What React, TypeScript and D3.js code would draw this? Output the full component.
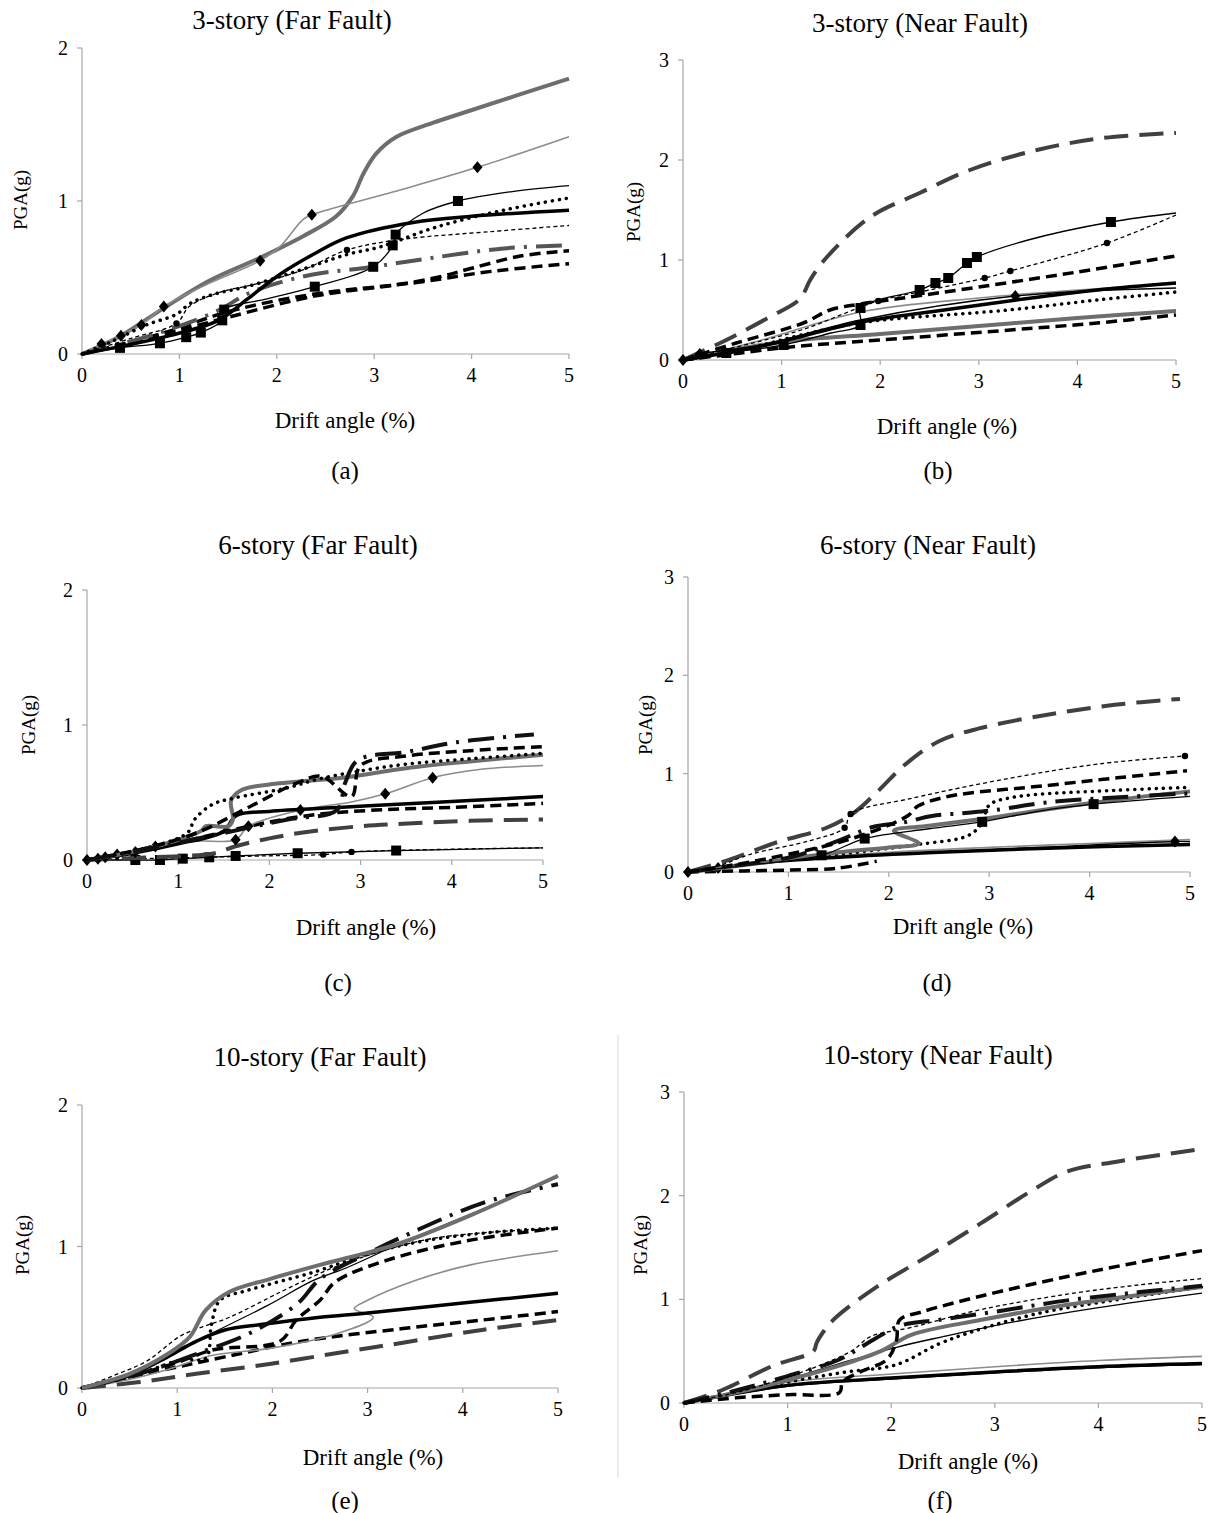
import React from 'react'
import * as d3 from 'd3'

// [drift %, PGA g, marker?]
type Pt = number[]
type Series = { style: string; pts: Pt[] }

const xTicks = [0, 1, 2, 3, 4, 5]
const yTicksFar = [0, 1, 2]
const yTicksNear = [0, 1, 2, 3]
const titles = [
  '3-story (Far Fault)',
  '3-story (Near Fault)',
  '6-story (Far Fault)',
  '6-story (Near Fault)',
  '10-story (Far Fault)',
  '10-story (Near Fault)',
]
const letters = ['(a)', '(b)', '(c)', '(d)', '(e)', '(f)']
const xTitle = 'Drift angle (%)'
const yTitle = 'PGA(g)'

const seriesA: Series[] = [
  { style: 'thickGray', pts: [[0, 0], [0.4, 0.12], [0.84, 0.3], [1.31, 0.48], [1.83, 0.63], [2.27, 0.77], [2.61, 0.9], [2.78, 1.03], [2.89, 1.18], [3.02, 1.31], [3.23, 1.42], [3.6, 1.51], [3.98, 1.59], [5, 1.8]] },
  { style: 'thinGrayDiamond', pts: [[0, 0], [0.2, 0.065, 1], [0.4, 0.12, 1], [0.61, 0.19, 1], [0.84, 0.31, 1], [1.3, 0.46], [1.83, 0.61, 1], [2.03, 0.7], [2.27, 0.88], [2.36, 0.91, 1], [3.2, 1.06], [4.06, 1.22, 1], [5, 1.42]] },
  { style: 'thickDash', pts: [[0, 0], [0.8, 0.12], [1.5, 0.24], [2.4, 0.38], [3.2, 0.45], [3.64, 0.5], [4.0, 0.56], [4.5, 0.64], [5, 0.675]] },
  { style: 'thickDash', pts: [[0, 0], [0.8, 0.13], [1.52, 0.28], [2.37, 0.39], [3.47, 0.47], [4.2, 0.54], [5, 0.59]] },
  { style: 'dashDotGray', pts: [[0, 0], [0.7, 0.12], [1.35, 0.27], [1.76, 0.41], [2.37, 0.52], [2.88, 0.56], [3.4, 0.61], [4.33, 0.69], [4.94, 0.71]] },
  { style: 'dotted', pts: [[0, 0], [0.3, 0.08], [0.66, 0.19], [0.97, 0.26], [1.11, 0.33], [1.35, 0.39], [1.69, 0.44], [2.2, 0.54], [2.72, 0.65], [3.06, 0.7], [3.64, 0.83], [4.33, 0.94], [5, 1.02]] },
  { style: 'thinDashCircle', pts: [[0, 0], [0.49, 0.1], [0.97, 0.2, 1], [1.1, 0.31], [1.4, 0.4], [1.8, 0.46], [2.27, 0.55], [2.72, 0.68, 1], [3.3, 0.75], [4.2, 0.8], [5, 0.84]] },
  { style: 'thickBlack', pts: [[0, 0], [0.4, 0.05], [0.9, 0.12], [1.4, 0.22], [1.7, 0.36], [2.03, 0.52], [2.4, 0.66], [2.72, 0.76], [3.4, 0.86], [4, 0.9], [5, 0.94]] },
  { style: 'thinBlackSquare', pts: [[0, 0], [0.39, 0.04, 1], [0.8, 0.07, 1], [1.07, 0.11, 1], [1.22, 0.14, 1], [1.44, 0.22, 1], [1.46, 0.29, 1], [1.9, 0.36], [2.39, 0.44, 1], [2.99, 0.57, 1], [3.19, 0.71, 1], [3.22, 0.78, 1], [3.5, 0.92], [3.86, 1.0, 1], [4.4, 1.06], [5, 1.1]] },
]

const seriesB: Series[] = [
  { style: 'longDash', pts: [[0, 0], [0.44, 0.2], [0.88, 0.43], [1.15, 0.58], [1.22, 0.66], [1.29, 0.8], [1.46, 1.03], [1.9, 1.43], [2.4, 1.67], [2.91, 1.9], [3.59, 2.1], [4.26, 2.22], [5, 2.27]] },
  { style: 'thickGray', pts: [[0, 0], [1.0, 0.18], [2.0, 0.26], [3.0, 0.34], [4.0, 0.42], [5, 0.49]] },
  { style: 'thickDash', pts: [[0, 0], [0.5, 0.06], [1.09, 0.13], [2.0, 0.2], [3.32, 0.3], [4.2, 0.37], [5, 0.45]] },
  { style: 'dotted', pts: [[0, 0], [0.6, 0.1], [1.2, 0.25], [1.86, 0.38], [3.3, 0.5], [4.2, 0.6], [5, 0.68]] },
  { style: 'thinGray', pts: [[0, 0], [0.8, 0.2], [1.8, 0.48], [3.0, 0.62], [4.0, 0.7], [5, 0.76]] },
  { style: 'thickBlack', pts: [[0, 0], [0.8, 0.14], [1.8, 0.38], [2.5, 0.48], [3.38, 0.6], [4.2, 0.7], [5, 0.77]] },
  { style: 'thinBlackDiamond', pts: [[0, 0, 1], [0.17, 0.06, 1], [0.8, 0.15], [1.8, 0.4], [3.37, 0.64, 1], [5, 0.72]] },
  { style: 'thickDash', pts: [[0, 0], [0.54, 0.17], [1.22, 0.37], [1.49, 0.5], [1.8, 0.56], [2.23, 0.62], [3.0, 0.73], [4.0, 0.88], [5, 1.04]] },
  { style: 'thinDashCircle', pts: [[0, 0], [0.5, 0.12], [1.2, 0.3], [1.98, 0.59, 1], [2.5, 0.7], [3.06, 0.82, 1], [3.32, 0.89, 1], [4.3, 1.17, 1], [5, 1.45]] },
  { style: 'thinBlackSquare', pts: [[0, 0], [0.44, 0.07, 1], [1.02, 0.15, 1], [1.5, 0.27], [1.8, 0.35, 1], [1.8, 0.52, 1], [2.4, 0.7, 1], [2.56, 0.77, 1], [2.69, 0.82, 1], [2.88, 0.97, 1], [2.98, 1.03, 1], [3.5, 1.2], [4.34, 1.38, 1], [5, 1.47]] },
]

const seriesC: Series[] = [
  { style: 'thinBlackSquare', pts: [[0, 0], [0.53, 0.0, 1], [0.8, 0.0, 1], [1.05, 0.01, 1], [1.34, 0.02, 1], [1.63, 0.03, 1], [2.31, 0.05, 1], [3.39, 0.07, 1], [5, 0.09]] },
  { style: 'thinDashCircle', pts: [[0, 0], [0.6, 0.01], [1.3, 0.02], [1.9, 0.03], [2.59, 0.04, 1], [2.9, 0.06, 1], [4, 0.08], [5, 0.09]] },
  { style: 'longDash', pts: [[0, 0], [0.7, 0.02], [1.4, 0.05], [1.62, 0.1], [2.0, 0.16], [2.43, 0.21], [3.0, 0.25], [3.52, 0.27], [4.2, 0.29], [5, 0.3]] },
  { style: 'thickDash', pts: [[0, 0], [0.6, 0.07], [1.2, 0.16], [1.77, 0.25], [2.43, 0.33], [3.16, 0.37], [4.0, 0.39], [5, 0.42]] },
  { style: 'thinGrayDiamond', pts: [[0, 0, 1], [0.12, 0.01, 1], [0.2, 0.02, 1], [0.33, 0.04, 1], [0.53, 0.06, 1], [0.75, 0.1, 1], [1.2, 0.14], [1.63, 0.15, 1], [1.77, 0.25, 1], [2.34, 0.37, 1], [2.9, 0.43], [3.27, 0.49, 1], [3.79, 0.61, 1], [4.3, 0.67], [5, 0.7]] },
  { style: 'thickBlack', pts: [[0, 0], [0.5, 0.05], [1.0, 0.12], [1.49, 0.21], [1.64, 0.33], [2.0, 0.36], [2.8, 0.39], [3.3, 0.41], [4.2, 0.44], [5, 0.47]] },
  { style: 'thickGray', pts: [[0, 0], [0.5, 0.06], [1.0, 0.15], [1.26, 0.22], [1.3, 0.25], [1.55, 0.25], [1.6, 0.3], [1.58, 0.44], [1.7, 0.52], [2.0, 0.56], [2.8, 0.61], [3.5, 0.68], [4.2, 0.73], [5, 0.78]] },
  { style: 'dotted', pts: [[0, 0], [0.6, 0.08], [1.1, 0.2], [1.18, 0.3], [1.37, 0.41], [1.62, 0.46], [2.17, 0.53], [2.54, 0.6], [3.0, 0.66], [3.5, 0.71], [4.2, 0.75], [5, 0.79]] },
  { style: 'thickDash', pts: [[0, 0], [0.6, 0.08], [1.2, 0.2], [1.8, 0.4], [2.3, 0.57], [2.57, 0.62], [2.9, 0.47], [3.0, 0.7], [3.5, 0.77], [4.2, 0.81], [5, 0.84]] },
  { style: 'dashDot', pts: [[0, 0], [0.8, 0.1], [1.5, 0.2], [2.2, 0.3], [2.74, 0.37], [2.83, 0.57], [2.97, 0.74], [3.5, 0.8], [4.03, 0.87], [4.9, 0.93]] },
]

const seriesD: Series[] = [
  { style: 'longDash', pts: [[0, 0], [0.4, 0.12], [0.88, 0.3], [1.38, 0.45], [1.65, 0.6], [1.89, 0.82], [2.16, 1.09], [2.5, 1.33], [2.9, 1.46], [3.58, 1.6], [4.25, 1.7], [4.9, 1.76]] },
  { style: 'thickDash', pts: [[0, 0], [0.5, 0.01], [1.0, 0.02], [1.5, 0.04], [1.88, 0.11]] },
  { style: 'thinGray', pts: [[0, 0], [1.0, 0.12], [2.0, 0.2], [3.0, 0.25], [4.0, 0.29], [5, 0.33]] },
  { style: 'thickBlack', pts: [[0, 0], [0.8, 0.1], [1.5, 0.15], [2.5, 0.2], [3.5, 0.24], [5, 0.28]] },
  { style: 'thinBlackDiamond', pts: [[0, 0, 1], [0.3, 0.04, 1], [1.0, 0.12], [2.0, 0.18], [3.5, 0.25], [4.85, 0.31, 1], [5, 0.31]] },
  { style: 'dotted', pts: [[0, 0], [0.6, 0.08], [1.2, 0.15], [1.76, 0.21], [2.29, 0.28], [2.79, 0.37], [2.93, 0.5], [3.0, 0.68], [3.24, 0.76], [4.25, 0.83], [5, 0.86]] },
  { style: 'thickGray', pts: [[0, 0], [0.7, 0.09], [1.5, 0.2], [2.0, 0.25], [2.3, 0.29], [2.05, 0.42], [2.4, 0.47], [3.0, 0.55], [4.0, 0.7], [5, 0.82]] },
  { style: 'thinBlackSquare', pts: [[0, 0], [0.6, 0.07], [1.33, 0.17, 1], [1.76, 0.34, 1], [2.4, 0.44], [2.93, 0.51, 1], [3.5, 0.62], [4.04, 0.69, 1], [5, 0.77]] },
  { style: 'dashDot', pts: [[0, 0], [0.5, 0.07], [1.06, 0.16], [1.5, 0.32], [1.85, 0.46], [2.13, 0.5], [2.43, 0.57], [2.76, 0.6], [3.06, 0.63], [3.6, 0.71], [4.3, 0.76], [5, 0.8]] },
  { style: 'thickDash', pts: [[0, 0], [0.5, 0.08], [1.0, 0.18], [1.5, 0.3], [1.96, 0.46], [2.2, 0.58], [2.29, 0.67], [2.6, 0.77], [3.58, 0.88], [4.3, 0.96], [4.97, 1.03]] },
  { style: 'thinDashCircle', pts: [[0, 0], [0.3, 0.06], [0.62, 0.18], [1.22, 0.32], [1.56, 0.45, 1], [1.62, 0.59, 1], [2.23, 0.75], [3.24, 0.96], [4.1, 1.1], [4.95, 1.18, 1]] },
]

const seriesE: Series[] = [
  { style: 'longDash', pts: [[0, 0], [0.58, 0.04], [1.2, 0.1], [1.97, 0.17], [2.8, 0.26], [3.37, 0.32], [4.2, 0.41], [5, 0.48]] },
  { style: 'thickDash', pts: [[0, 0], [0.8, 0.12], [1.5, 0.22], [2.31, 0.33], [3.37, 0.42], [4.2, 0.48], [5, 0.54]] },
  { style: 'thinGray', pts: [[0, 0], [0.5, 0.06], [0.9, 0.13], [1.36, 0.23], [1.97, 0.28], [2.66, 0.38], [3.06, 0.5], [2.86, 0.56], [3.0, 0.62], [3.5, 0.76], [4.08, 0.87], [5, 0.97]] },
  { style: 'thickBlack', pts: [[0, 0], [0.5, 0.09], [0.9, 0.22], [1.2, 0.33], [1.5, 0.41], [1.9, 0.45], [2.5, 0.5], [3.0, 0.53], [4.0, 0.6], [5, 0.67]] },
  { style: 'thickDash', pts: [[0, 0], [0.6, 0.1], [1.0, 0.18], [1.38, 0.27], [2.08, 0.33], [2.25, 0.48], [2.5, 0.62], [2.66, 0.75], [3.19, 0.9], [4.04, 1.04], [5, 1.13]] },
  { style: 'thinDash', pts: [[0, 0], [0.34, 0.09], [0.68, 0.19], [1.04, 0.37], [1.3, 0.44], [1.55, 0.5], [2.09, 0.68], [2.6, 0.84], [3.02, 0.94], [3.71, 1.06], [5, 1.13]] },
  { style: 'dotted', pts: [[0, 0], [0.6, 0.1], [1.05, 0.2], [1.3, 0.21], [1.36, 0.45], [1.45, 0.62], [1.74, 0.69], [2.44, 0.82], [3.02, 0.95], [3.6, 1.04], [4.3, 1.1], [5, 1.13]] },
  { style: 'thinBlack', pts: [[0, 0], [0.6, 0.12], [1.0, 0.27], [1.31, 0.37], [1.94, 0.58], [2.43, 0.76], [2.78, 0.85], [3.37, 1.03], [4.2, 1.26], [5, 1.49]] },
  { style: 'dashDot', pts: [[0, 0], [0.6, 0.1], [1.2, 0.24], [1.8, 0.4], [2.27, 0.6], [2.5, 0.77], [3.0, 0.95], [3.37, 1.07], [4.22, 1.31], [5, 1.44]] },
  { style: 'thickGray', pts: [[0, 0], [0.5, 0.1], [0.9, 0.24], [1.13, 0.36], [1.3, 0.55], [1.55, 0.68], [1.97, 0.77], [2.5, 0.87], [3.02, 0.96], [3.37, 1.03], [4.08, 1.22], [5, 1.5]] },
]

const seriesF: Series[] = [
  { style: 'longDash', pts: [[0, 0], [0.38, 0.13], [0.86, 0.36], [1.25, 0.5], [1.28, 0.58], [1.34, 0.68], [1.46, 0.82], [1.86, 1.12], [2.36, 1.42], [2.86, 1.73], [3.36, 2.05], [3.69, 2.23], [4.19, 2.33], [5, 2.45]] },
  { style: 'thinGray', pts: [[0, 0], [1.0, 0.2], [2.0, 0.28], [3.0, 0.35], [4.0, 0.41], [5, 0.45]] },
  { style: 'thinBlack', pts: [[0, 0], [1, 0.16], [2, 0.23], [3, 0.29], [4, 0.34], [5, 0.37]] },
  { style: 'thickBlack', pts: [[0, 0], [1.0, 0.17], [2.0, 0.24], [3.0, 0.3], [4.0, 0.35], [5, 0.38]] },
  { style: 'dotted', pts: [[0, 0], [0.5, 0.1], [1.1, 0.22], [1.57, 0.3], [2.05, 0.37], [2.46, 0.57], [2.79, 0.69], [3.4, 0.86], [4.2, 1.0], [5, 1.12]] },
  { style: 'thinBlack', pts: [[0, 0], [0.5, 0.1], [1.04, 0.24], [1.5, 0.38], [2.06, 0.54], [2.5, 0.64], [3.17, 0.78], [4.0, 0.92], [5, 1.06]] },
  { style: 'thickGray', pts: [[0, 0], [0.5, 0.1], [1.0, 0.22], [1.5, 0.36], [1.9, 0.5], [2.2, 0.66], [2.86, 0.8], [3.6, 0.93], [4.3, 1.03], [5, 1.12]] },
  { style: 'dashDot', pts: [[0, 0], [0.5, 0.12], [1.0, 0.26], [1.5, 0.42], [1.86, 0.63], [2.1, 0.75], [2.45, 0.8], [3.0, 0.88], [3.7, 0.99], [4.4, 1.07], [5, 1.13]] },
  { style: 'thinDash', pts: [[0, 0], [0.5, 0.1], [1.0, 0.25], [1.4, 0.4], [1.63, 0.51], [1.8, 0.64], [2.2, 0.73], [2.86, 0.9], [3.7, 1.05], [4.4, 1.14], [5, 1.2]] },
  { style: 'thickDash', pts: [[0, 0], [0.5, 0.05], [1.0, 0.08], [1.5, 0.1], [1.53, 0.2], [1.7, 0.3], [1.96, 0.42], [2.05, 0.6], [2.08, 0.8], [2.3, 0.88], [2.86, 1.03], [3.7, 1.22], [4.4, 1.36], [5, 1.47]] },
]

type LineStyle = { stroke: string; width: number; dash?: string; cap?: 'round' | 'butt'; marker?: string }
const styles: Record<string, LineStyle> = {
  thickGray: { stroke: '#6e6e6e', width: 4 },
  thinGray: { stroke: '#8c8c8c', width: 1.6 },
  thinGrayDiamond: { stroke: '#8c8c8c', width: 1.6, marker: 'diamond' },
  thickBlack: { stroke: '#000', width: 3.5 },
  thinBlack: { stroke: '#000', width: 1.3 },
  thinBlackSquare: { stroke: '#000', width: 1.3, marker: 'square' },
  thinBlackDiamond: { stroke: '#000', width: 1.3, marker: 'diamond' },
  thinDash: { stroke: '#000', width: 1.3, dash: '4 3' },
  thinDashCircle: { stroke: '#000', width: 1.3, dash: '4 3', marker: 'circle' },
  dotted: { stroke: '#000', width: 3.5, dash: '0.1 7', cap: 'round' },
  thickDash: { stroke: '#000', width: 3.5, dash: '11 6' },
  longDash: { stroke: '#404040', width: 4, dash: '24 11' },
  dashDot: { stroke: '#111', width: 4, dash: '26 9 3 9' },
  dashDotGray: { stroke: '#555', width: 4, dash: '26 9 3 9' },
}

type PanelCfg = {
  data: Series[]
  yTicks: number[]
  left: number; right: number; bottom: number; top: number
  title: [number, number]; yLab: [number, number]; xLab: [number, number]; letter: [number, number]
}

const panels: PanelCfg[] = [
  { data: seriesA, yTicks: yTicksFar, left: 82, right: 569, bottom: 354, top: 48, title: [292, 29], yLab: [20, 200], xLab: [345, 428], letter: [345, 479] },
  { data: seriesB, yTicks: yTicksNear, left: 683, right: 1176, bottom: 360, top: 60, title: [920, 32], yLab: [633, 212], xLab: [947, 434], letter: [938, 479] },
  { data: seriesC, yTicks: yTicksFar, left: 87, right: 543, bottom: 860, top: 590, title: [318, 554], yLab: [28, 725], xLab: [366, 935], letter: [338, 991] },
  { data: seriesD, yTicks: yTicksNear, left: 688, right: 1190, bottom: 872, top: 577, title: [928, 554], yLab: [645, 725], xLab: [963, 934], letter: [937, 991] },
  { data: seriesE, yTicks: yTicksFar, left: 82, right: 558, bottom: 1388, top: 1105, title: [320, 1066], yLab: [22, 1245], xLab: [373, 1465], letter: [345, 1509] },
  { data: seriesF, yTicks: yTicksNear, left: 684, right: 1202, bottom: 1403, top: 1092, title: [938, 1064], yLab: [640, 1245], xLab: [968, 1469], letter: [940, 1509] },
]

const axisColor = '#a6a6a6'

function Marker({ kind, cx, cy }: { kind?: string; cx: number; cy: number }) {
  if (kind === 'square') return <rect x={cx - 5} y={cy - 5} width={10} height={10} fill="#000" />
  if (kind === 'diamond') return <path d={`M${cx},${cy - 6}L${cx + 5},${cy}L${cx},${cy + 6}L${cx - 5},${cy}Z`} fill="#000" />
  if (kind === 'circle') return <circle cx={cx} cy={cy} r={3.2} fill="#000" />
  return null
}

function Panel({ p, i }: { p: PanelCfg; i: number }) {
  const yMax = p.yTicks[p.yTicks.length - 1]
  const x = d3.scaleLinear().domain([0, 5]).range([p.left, p.right])
  const y = d3.scaleLinear().domain([0, yMax]).range([p.bottom, p.top])
  const line = d3
    .line<Pt>()
    .x((d) => x(d[0]))
    .y((d) => y(d[1]))
    .curve(d3.curveCatmullRom.alpha(0.5))

  return (
    <g>
      <text x={p.title[0]} y={p.title[1]} textAnchor="middle" fontSize={27}>{titles[i]}</text>
      {/* axes */}
      <line x1={p.left} x2={p.left} y1={p.top} y2={p.bottom} stroke={axisColor} strokeWidth={1.2} />
      <line x1={p.left} x2={p.right} y1={p.bottom} y2={p.bottom} stroke={axisColor} strokeWidth={1.2} />
      {p.yTicks.map((t) => (
        <g key={'y' + t}>
          <line x1={p.left - 5} x2={p.left} y1={y(t)} y2={y(t)} stroke={axisColor} strokeWidth={1.2} />
          <text x={p.left - 14} y={y(t) + 7} textAnchor="end" fontSize={20}>{t}</text>
        </g>
      ))}
      {xTicks.map((t) => (
        <g key={'x' + t}>
          <line x1={x(t)} x2={x(t)} y1={p.bottom} y2={p.bottom + 5} stroke={axisColor} strokeWidth={1.2} />
          <text x={x(t)} y={p.bottom + 28} textAnchor="middle" fontSize={20}>{t}</text>
        </g>
      ))}
      <text
        transform={`translate(${p.yLab[0]},${p.yLab[1]}) rotate(-90)`}
        textAnchor="middle"
        dy="0.35em"
        fontSize={19}
      >
        {yTitle}
      </text>
      <text x={p.xLab[0]} y={p.xLab[1]} textAnchor="middle" fontSize={23}>{xTitle}</text>
      <text x={p.letter[0]} y={p.letter[1]} textAnchor="middle" fontSize={25}>{letters[i]}</text>
      {/* curves */}
      {p.data.map((s, k) => {
        const st = styles[s.style]
        return (
          <g key={k}>
            <path
              d={line(s.pts) || ''}
              fill="none"
              stroke={st.stroke}
              strokeWidth={st.width}
              strokeDasharray={st.dash}
              strokeLinecap={st.cap || 'butt'}
              strokeLinejoin="round"
            />
            {s.pts
              .filter((d) => d[2] === 1)
              .map((d, j) => (
                <Marker key={j} kind={st.marker} cx={x(d[0])} cy={y(d[1])} />
              ))}
          </g>
        )
      })}
    </g>
  )
}

export default function App() {
  return (
    <svg
      width={1211}
      height={1513}
      style={{ position: 'absolute', left: 0, top: 0, background: '#fff' }}
      fontFamily="'Liberation Serif', 'Times New Roman', serif"
    >
      <rect width={1211} height={1513} fill="#fff" />
      <line x1={618} x2={618} y1={1035} y2={1478} stroke="#d9d9d9" strokeWidth={1} />
      {panels.map((p, i) => (
        <Panel key={i} p={p} i={i} />
      ))}
    </svg>
  )
}
